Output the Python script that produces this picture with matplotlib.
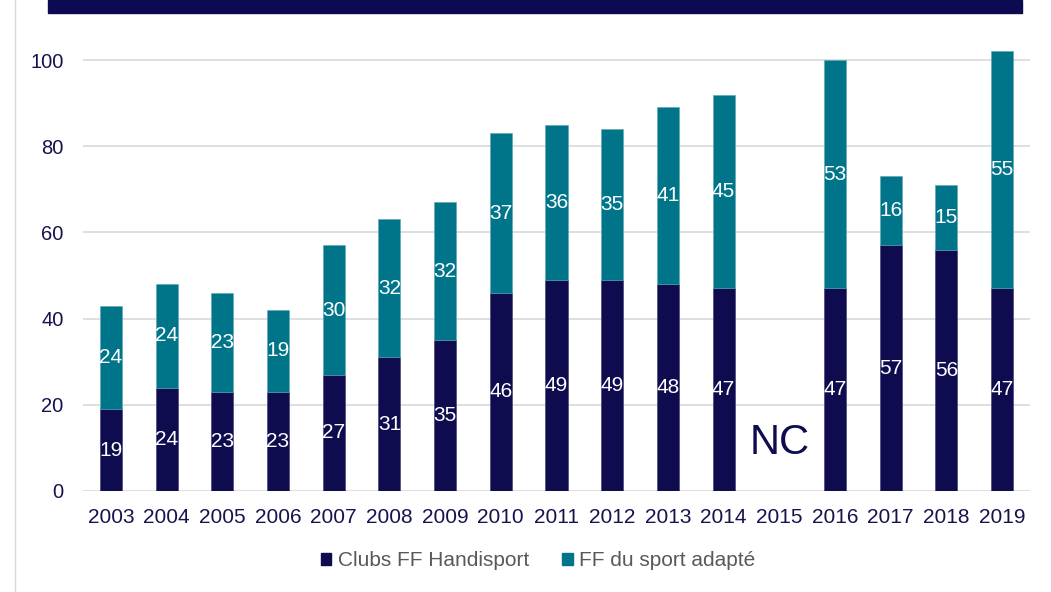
import numpy as np
import matplotlib
matplotlib.use("Agg")
import matplotlib.pyplot as plt
from matplotlib.patches import Patch, Rectangle
from matplotlib.lines import Line2D

plt.rcParams['font.family'] = ['Liberation Sans', 'DejaVu Sans']

years = ["2003", "2004", "2005", "2006", "2007", "2008", "2009", "2010", "2011",
         "2012", "2013", "2014", "2015", "2016", "2017", "2018", "2019"]
handisport = [19, 24, 23, 23, 27, 31, 35, 46, 49, 49, 48, 47, np.nan, 47, 57, 56, 47]
adapte = [24, 24, 23, 19, 30, 32, 32, 37, 36, 35, 41, 45, np.nan, 53, 16, 15, 55]
series_names = ["Clubs FF Handisport", "FF du sport adapté"]
yticks = [0, 20, 40, 60, 80, 100]
missing_label = "NC"
missing_index = 12

NAVY = "#0E0B4F"
TEAL = "#00758A"
TXT = "#15134F"
GRID = "#D9D9D9"

W, H = 1051, 592
fig = plt.figure(figsize=(W / 100, H / 100), dpi=100)

left, right, bottom_px, top_px = 83, 1030, 491, 38.5
ax = fig.add_axes([left / W, 1 - bottom_px / H, (right - left) / W, (bottom_px - top_px) / H])

x = np.arange(len(years))
h = np.array(handisport, dtype=float)
a = np.array(adapte, dtype=float)
bw = 0.395
ax.bar(x, np.nan_to_num(h), width=bw, color=NAVY, edgecolor="#3a3870", linewidth=0.4, zorder=3)
ax.bar(x, np.nan_to_num(a), bottom=np.nan_to_num(h), width=bw, color=TEAL,
       edgecolor="#5aa6b3", linewidth=0.4, zorder=3)

for i in range(len(years)):
    if np.isnan(h[i]):
        continue
    ax.text(x[i], h[i] / 2, f"{int(h[i])}", ha="center", va="center", color="white",
            fontsize=15, zorder=4)
    ax.text(x[i], h[i] + a[i] / 2, f"{int(a[i])}", ha="center", va="center", color="white",
            fontsize=15, zorder=4)

ax.text(missing_index, 11.1, missing_label, ha="center", va="center", color=NAVY,
        fontsize=30, zorder=4)

ax.set_xlim(-0.5, len(years) - 0.5)
ax.set_ylim(0, 105)
ax.set_yticks(yticks)
ax.set_yticklabels([str(v) for v in yticks])
ax.set_xticks(x)
ax.set_xticklabels(years)
ax.tick_params(axis="y", length=0, pad=14, labelsize=14.5, labelcolor=TXT)
ax.tick_params(axis="x", length=0, pad=12, labelsize=15, labelcolor=TXT)
for s in ax.spines.values():
    s.set_visible(False)
ax.yaxis.grid(True, color=GRID, linewidth=1.2, zorder=0)
ax.set_axisbelow(True)

fig.patches.append(Rectangle((48 / W, 1 - 13 / H), (1022 - 48) / W, 13 / H,
                             transform=fig.transFigure, color="#0C0A50", zorder=5))
fig.lines.append(Line2D([14.5 / W, 14.5 / W], [0, 1], transform=fig.transFigure,
                        color=GRID, linewidth=1.0))

handles = [Patch(facecolor=NAVY, edgecolor=NAVY), Patch(facecolor=TEAL, edgecolor=TEAL)]
leg = fig.legend(handles, series_names, loc="center", bbox_to_anchor=(538 / W, 1 - 561 / H),
                 ncol=2, frameon=False, fontsize=15, handlelength=0.5, handleheight=0.5,
                 handletextpad=0.3, columnspacing=1.6, labelcolor="#595959")

fig.savefig("out.png", dpi=100)
